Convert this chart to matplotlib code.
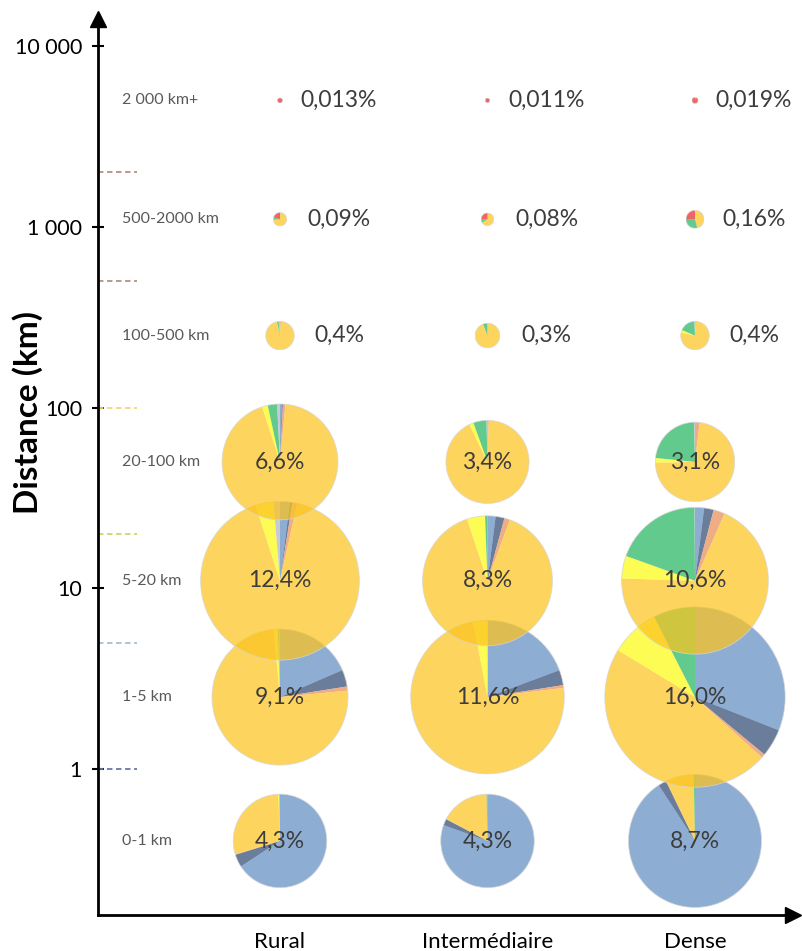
import numpy as np
import matplotlib
matplotlib.use("Agg")
import matplotlib.pyplot as plt
from matplotlib.ticker import NullLocator
from matplotlib.patches import Circle

plt.rcParams['font.family'] = ['Lato', 'DejaVu Sans']

# ---------------- data ----------------
areas = ['Rural', 'Intermédiaire', 'Dense']
bands = ['0-1 km', '1-5 km', '5-20 km', '20-100 km', '100-500 km', '500-2000 km', '2 000 km+']
band_mid_km = [0.4, 2.5, 11, 50, 250, 1100, 5000]
band_limits_km = [1, 5, 20, 100, 500, 2000]
limit_colors = ['#6a76a6', '#a9bdd6', '#cfd66a', '#f7d77a', '#b98f7f', '#b98f7f']

modes = ['Marche', 'Vélo', 'Deux-roues motorisés', 'Voiture',
         'Transports routiers', 'Train', 'Avion', 'Autre']
mode_colors = ['#638ec3', '#304b74', '#ea8e58', '#fcc420',
               '#fbfb13', '#25b660', '#ea2a2a', '#b0b6c2']

# share of each mode (%) per distance band, bands ordered 0-1 km ... 2 000 km+
share_rural = [
    [65.8, 4.4, 0.2, 29.0, 0.3, 0.2, 0.0, 0.1],
    [18.5, 4.0, 1.0, 75.0, 1.0, 0.3, 0.0, 0.2],
    [2.0, 0.5, 1.0, 91.5, 3.7, 0.0, 0.0, 1.3],
    [0.5, 0.3, 0.7, 93.5, 1.6, 2.6, 0.0, 0.8],
    [0.0, 0.0, 1.0, 95.0, 0.5, 2.0, 0.0, 1.5],
    [0.0, 0.0, 0.0, 74.0, 0.0, 6.0, 20.0, 0.0],
    [0.0, 0.0, 0.0, 0.0, 0.0, 0.0, 100.0, 0.0],
]
share_inter = [
    [80.5, 2.2, 0.1, 16.9, 0.0, 0.3, 0.0, 0.0],
    [19.3, 3.2, 0.6, 73.9, 3.0, 0.0, 0.0, 0.0],
    [2.0, 2.2, 1.4, 89.3, 4.5, 0.6, 0.0, 0.0],
    [0.1, 0.1, 0.3, 92.3, 1.7, 5.1, 0.0, 0.4],
    [0.0, 0.0, 1.0, 92.5, 0.5, 5.5, 0.0, 0.5],
    [0.0, 0.0, 0.0, 66.0, 0.0, 8.0, 26.0, 0.0],
    [0.0, 0.0, 0.0, 0.0, 0.0, 0.0, 100.0, 0.0],
]
share_dense = [
    [90.8, 2.0, 0.1, 6.8, 0.0, 0.3, 0.0, 0.0],
    [31.0, 5.0, 0.7, 47.0, 8.8, 7.5, 0.0, 0.0],
    [2.0, 2.1, 2.5, 68.9, 5.0, 19.4, 0.0, 0.1],
    [0.0, 0.0, 1.9, 72.8, 1.9, 23.0, 0.0, 0.4],
    [0.0, 0.0, 0.8, 77.5, 3.0, 18.0, 0.0, 0.7],
    [0.0, 0.0, 0.0, 46.0, 0.0, 28.0, 26.0, 0.0],
    [0.0, 0.0, 0.0, 3.0, 0.0, 0.0, 97.0, 0.0],
]
# share of all trips (%) per band
total_rural = [4.3, 9.1, 12.4, 6.6, 0.4, 0.09, 0.013]
total_inter = [4.3, 11.6, 8.3, 3.4, 0.3, 0.08, 0.011]
total_dense = [8.7, 16.0, 10.6, 3.1, 0.4, 0.16, 0.019]
total_decimals = [1, 1, 1, 1, 1, 2, 3]

y_ticks = [1, 10, 100, 1000, 10000]
y_tick_labels = ['1', '10', '100', '1 000', '10 000']

shares = [share_rural, share_inter, share_dense]
totals = [total_rural, total_inter, total_dense]

# ---------------- layout ----------------
W, H = 802, 951
fig = plt.figure(figsize=(W / 100, H / 100), dpi=100)

px_left, px_bottom, px_right, px_top = 98, 915, 793, 19
ax = fig.add_axes([px_left / W, 1 - px_bottom / H,
                   (px_right - px_left) / W, (px_bottom - px_top) / H])
ax.set_yscale('log')
decade_px = 180.75
px_one = 769
ax.set_ylim(10 ** (-(px_bottom - px_one) / decade_px),
            10 ** ((px_one - px_top) / decade_px))
col0_px, col_step_px = 280, 207.5
ax.set_xlim((px_left - col0_px) / col_step_px, (px_right - col0_px) / col_step_px)
x0 = ax.get_xlim()[0]

for s in ['top', 'right']:
    ax.spines[s].set_visible(False)
for s in ['left', 'bottom']:
    ax.spines[s].set_linewidth(2.0)
    ax.spines[s].set_color('black')

ax.set_yticks(y_ticks)
ax.set_yticklabels(y_tick_labels)
ax.yaxis.set_minor_locator(NullLocator())
ax.tick_params(axis='y', direction='inout', length=8, width=1.5,
               labelsize=15.5, pad=7.5, colors='black')
ax.set_xticks(range(len(areas)))
ax.set_xticklabels(areas)
ax.tick_params(axis='x', length=0, labelsize=16, pad=12, colors='black')

# arrow heads
ax.plot([0], [1], marker='^', ms=11, color='black', transform=ax.transAxes, clip_on=False)
ax.plot([1], [0], marker='>', ms=11, color='black', transform=ax.transAxes, clip_on=False)

# band limits
dash_frac = 39 / (px_right - px_left)
for lim, c in zip(band_limits_km, limit_colors):
    ax.axhline(lim, xmin=0, xmax=dash_frac, color=c, lw=1.3, ls=(0, (3, 2)))

# band labels
for b, mid in zip(bands, band_mid_km):
    ax.text(x0 + 24 / col_step_px, mid, b, ha='left', va='center',
            fontsize=11.5, color='#595959')

fig.text(28 / W, 1 - 412 / H, 'Distance (km)', rotation=90, fontsize=24,
         fontweight='bold', ha='center', va='center')

# pies
fig.canvas.draw()
k_px = 23.0
for j in range(len(bands)):
    for i in range(len(areas)):
        tot = totals[i][j]
        cx, cy = ax.transData.transform((i, band_mid_km[j]))
        r = k_px * np.sqrt(tot)
        pax = fig.add_axes([(cx - r) / W, (cy - r) / H, 2 * r / W, 2 * r / H])
        pax.pie(shares[i][j], colors=mode_colors, startangle=90, counterclock=False,
                radius=1, wedgeprops=dict(linewidth=0, alpha=0.72))
        pax.add_patch(Circle((0, 0), 1.0, fill=False, ec='#d6d6d6', lw=0.6, alpha=0.8))
        pax.set_xlim(-1.02, 1.02)
        pax.set_ylim(-1.02, 1.02)
        pax.axis('off')

# labels on top
for j in range(len(bands)):
    for i in range(len(areas)):
        tot = totals[i][j]
        txt = f"{tot:.{total_decimals[j]}f}".replace('.', ',') + '%'
        xpos = i if j <= 3 else i + 59 / col_step_px
        fig.text(xpos, band_mid_km[j], txt, transform=ax.transData,
                 ha='center', va='center', fontsize=16.5, color='#3d3d3d', zorder=10)

fig.savefig('out.png', dpi=100)
